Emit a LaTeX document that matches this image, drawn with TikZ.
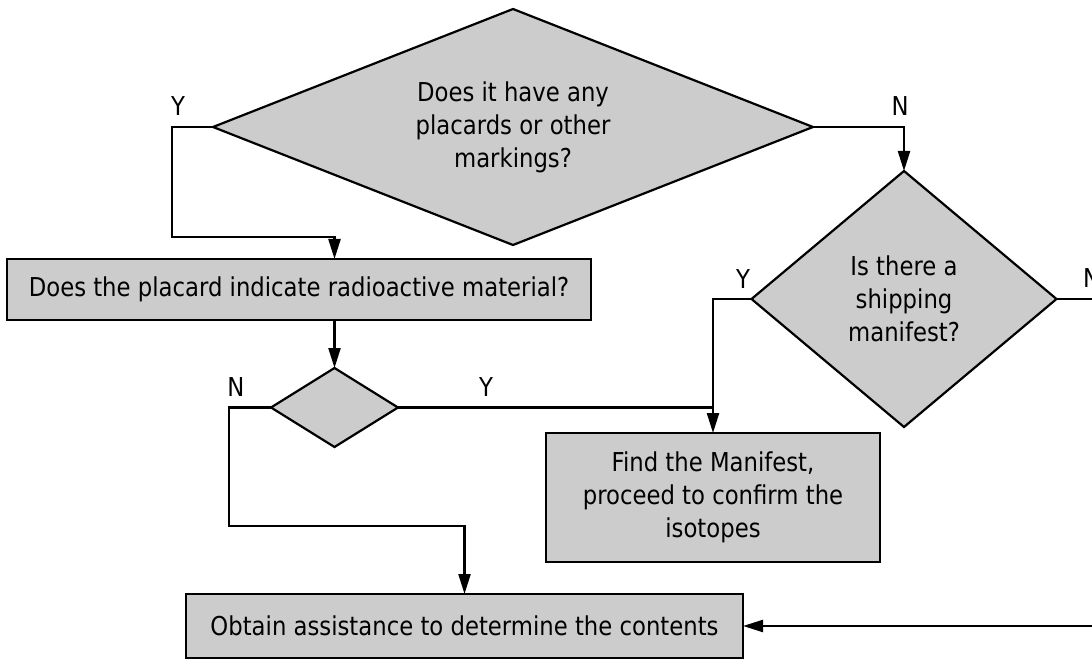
\documentclass[tikz,border=0pt]{standalone}
\usepackage{fontspec}
\setmainfont{DejaVu Sans}[FakeStretch=0.875]
\usetikzlibrary{shapes.geometric,arrows.meta}
\definecolor{boxgray}{RGB}{204,204,204}
\begin{document}
\begin{tikzpicture}[x=1pt,y=-1pt,
  every node/.style={font=\fontsize{26}{33}\selectfont},
  decision/.style={diamond,draw=black,fill=boxgray,line width=2.2pt,
    inner sep=0pt,outer sep=0pt,align=center},
  process/.style={rectangle,draw=black,fill=boxgray,line width=2.2pt,
    inner sep=0pt,outer sep=0pt,align=center},
  flow/.style={line width=2.2pt},
  arr/.style={flow,-{Triangle[length=20pt,width=12pt]}},
  lbl/.style={inner sep=0pt}]
\useasboundingbox (0,0) rectangle (1092,660);
\clip (0,0) rectangle (1092,660);

% decisions
\node[decision,aspect=2.54,minimum width=600pt,minimum height=236pt] (big) at (513,127)
  {Does it have any\\placards or other\\markings?};
\node[decision,aspect=1.19,minimum width=305pt,minimum height=256pt] (rd) at (904,299)
  {Is there a\\shipping\\manifest?};
\node[decision,aspect=1.6,minimum width=127pt,minimum height=79pt] (sd) at (334.5,407.5) {};

% processes
\node[process,minimum width=584pt,minimum height=61pt] (box1) at (299,289.5)
  {Does the placard indicate radioactive material?};
\node[process,minimum width=334pt,minimum height=129pt] (find) at (713,497.5)
  {Find the Manifest,\\proceed to confirm the\\isotopes};
\node[process,minimum width=557pt,minimum height=64pt] (obtain) at (464.5,626)
  {Obtain assistance to determine the contents};

% turning points
\coordinate (ya) at (172,237);
\coordinate (na) at (229,526);
\coordinate (nc) at (1115,626);

% connectors
\draw[arr] (big.west) -| (ya) -| (sd |- box1.north);
\draw[arr] (big.east) -| (rd.north);
\draw[arr] (sd |- box1.south) -- (sd.north);
\draw[arr] (sd.west) -| (na) -| (obtain.north);
\draw[flow] (sd.east) -- (find.north |- sd.east);
\draw[arr] (rd.west) -| (find.north);
\draw[arr] (rd.east) -| (nc) -- (obtain.east);

% branch labels
\node[lbl] (ly1) at (178,106) {Y};
\node[lbl] (ln1) at (900,106) {N};
\node[lbl] (ly2) at (743,279) {Y};
\node[lbl,anchor=west] (ln2) at (1083,278) {N};
\node[lbl] (ln3) at (236,387) {N};
\node[lbl] (ly3) at (486,387) {Y};
\end{tikzpicture}
\end{document}
